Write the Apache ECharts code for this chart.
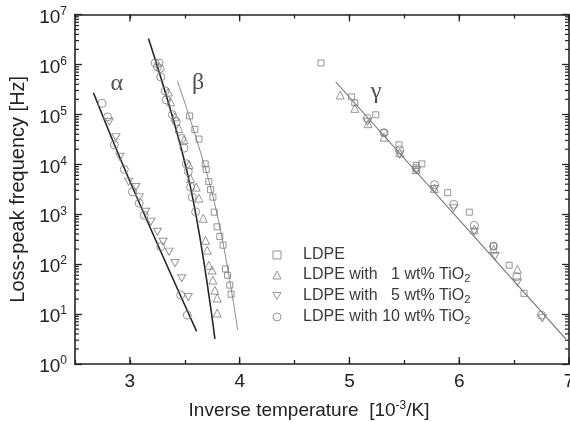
<!DOCTYPE html>
<html><head><meta charset="utf-8">
<script src="https://cdn.jsdelivr.net/npm/echarts@6/dist/echarts.min.js"></script>
<style>html,body{margin:0;padding:0;background:#fff;width:100%;height:100%;overflow:hidden}#c{width:100vw;height:100vh}</style>
</head><body><div id="c"></div><script>
// ---- data (x = inverse temperature [1e-3/K], y = loss-peak frequency [Hz]) ----
const ldpeSquares = [
  [3.544,9.3e4],[3.592,5.0e4],[3.629,3.2e4],[3.686,1.02e4],[3.695,7.9e3],[3.719,4.5e3],[3.735,3.1e3],
  [3.756,2.2e3],[3.768,1.1e3],[3.795,560],[3.819,360],[3.849,240],[3.871,80],[3.889,60],[3.910,38],[3.922,25],
  [4.741,1.07e6],[5.019,2.24e5],[5.049,1.7e5],[5.240,9.8e4],[5.315,4.3e4],[5.451,2.45e4],[5.660,1.02e4],
  [5.608,9.5e3],[5.895,2.7e3],[6.092,1.1e3],[6.312,229],[6.455,95],[6.590,26]
];
const tio1Up = [
  [3.351,2.8e5],[3.372,1.78e5],[3.411,8.9e4],[3.447,5.2e4],[3.493,3.1e4],[3.538,9.8e3],[3.553,5.2e3],
  [3.604,3.5e3],[3.629,2.1e3],[3.668,830],[3.689,300],[3.704,190],[3.719,95],[3.749,76],[3.756,48],
  [3.774,30],[3.795,21],[3.795,10.5],
  [4.916,2.45e5],[5.049,1.32e5],[5.170,6.5e4],[5.315,3.5e4],[5.457,1.7e4],[5.608,7.9e3],[5.775,3.3e3],
  [6.137,500],[6.312,200],[6.530,79]
];
const tio5Down = [
  [2.813,7.1e4],[2.873,3.5e4],[2.909,1.41e4],[2.988,4.5e3],[3.055,3.5e3],[3.085,2.2e3],[3.145,1.12e3],
  [3.191,710],[3.251,447],[3.302,282],[3.357,178],[3.411,105],[3.472,52],[3.532,22],
  [5.164,7.1e4],[5.457,1.58e4],[5.608,7.6e3],[5.775,3.2e3],[5.950,1.32e3],[6.137,447],[6.327,145],
  [6.530,43],[6.757,8.3]
];
const tio10Circles = [
  [2.747,1.66e5],[2.797,8.9e4],[2.858,2.45e4],[2.949,7.9e3],[3.024,2.8e3],[3.085,1.66e3],[3.130,955],
  [3.281,224],[3.463,24],[3.523,9.5],
  [3.230,1.07e6],[3.266,1.07e6],[3.251,8.9e5],[3.275,8.3e5],[3.281,5.6e5],[3.320,2.95e5],[3.332,1.95e5],
  [3.387,9.8e4],[3.423,7.1e4],[3.472,3.3e4],[3.493,2.1e4],[3.514,1.02e4],[3.532,7.1e3],[3.553,3.5e3],
  [3.568,2.2e3],[3.599,1.12e3],
  [5.164,8.3e4],[5.315,4.3e4],[5.457,1.95e4],[5.608,8.3e3],[5.775,3.9e3],[5.950,1.58e3],[6.137,600],
  [6.312,229],[6.524,56],[6.748,9.5]
];
const fitAlpha = [[2.668,2.7e5],[2.994,4.9e3],[3.608,4.5]];
const fitBeta1 = [[3.169,3.3e6],[3.538,4.8e3],[3.774,3.2]];
const fitBeta2 = [[3.432,4.7e5],[3.765,1.9e3],[3.982,4.8]];
const fitGamma = [[4.874,4.5e5],[6.97,3.2]];
const greekLabels = [[2.88,4.1e5,'α'],[3.622,4.3e5,'β'],[5.243,2.8e5,'γ']];
const seriesNames = ['LDPE','LDPE with   1 wt% TiO2','LDPE with   5 wt% TiO2','LDPE with 10 wt% TiO2'];
const xTickLabels = [3,4,5,6,7];
const minorMantissas = [2,3,4,5,6,7,8,9];
const decades = [1,10,100,1e3,1e4,1e5,1e6];

const X_MIN = 2.5, X_MAX = 7, Y_MIN = 1, Y_MAX = 1e7;
const downTri = 'path://M0,0L10,0L5,8.66Z';
const markColor = '#7c7c7c';
const hollow = {color:'rgba(0,0,0,0)', borderColor:markColor, borderWidth:1};
const FONT = 'Liberation Sans, Arial, sans-serif';

const minorTicks = [];
decades.forEach(d => minorMantissas.forEach(m => minorTicks.push([X_MIN, m*d])));

const el = document.getElementById('c');
const chart = echarts.init(el, null, {renderer:'canvas'});
const W = chart.getWidth(), H = chart.getHeight();
const sx = W / 570, sy = H / 422, s = (sx + sy) / 2;
const px = v => v * sx, py = v => v * sy, fs = v => v * s;

function legendText(name){
  const m = name.match(/^(.*TiO)2$/);
  return m ? '{t|' + m[1] + '}{sub|2}' : '{t|' + name + '}';
}
const axisTxt = {fontFamily:FONT, fontSize:fs(19), color:'#222'};
chart.setOption({
  animation:false,
  backgroundColor:'#fff',
  grid:{left:px(75), top:py(14.5), width:px(494), height:py(349.5), containLabel:false, outerBoundsMode:'none'},
  legend:{
    orient:'vertical', left:px(267.5), top:py(242), padding:5*s,
    itemWidth:fs(8), itemHeight:fs(8), itemGap:py(4),
    selectedMode:false,
    itemStyle:{color:'rgba(0,0,0,0)', borderColor:markColor, borderWidth:1},
    data:[
      {name:seriesNames[0], icon:'rect'},
      {name:seriesNames[1], icon:'triangle'},
      {name:seriesNames[2], icon:downTri},
      {name:seriesNames[3], icon:'circle'}
    ],
    formatter: legendText,
    textStyle:{
      fontFamily:FONT, fontSize:fs(16), color:'#3a3a3a', padding:[0,0,0,px(17)],
      rich:{
        t:{fontFamily:FONT, fontSize:fs(16), color:'#3a3a3a', lineHeight:fs(18)},
        sub:{fontFamily:FONT, fontSize:fs(11), color:'#3a3a3a', lineHeight:fs(11), verticalAlign:'bottom'}
      }
    }
  },
  xAxis:[{
    type:'value', min:X_MIN, max:X_MAX, interval:0.5, position:'bottom',
    name:'Inverse temperature  [10{s|-3}/K]', nameLocation:'middle', nameGap:py(36),
    nameTextStyle:Object.assign({}, axisTxt, {padding:[0,px(26),0,0],
      rich:{s:{fontFamily:FONT, fontSize:fs(12), color:'#222', padding:[0,0,fs(9),0]}}}),
    axisLine:{lineStyle:{color:'#222', width:1.6}},
    axisTick:{inside:true, length:fs(4), lineStyle:{color:'#222', width:1.3}},
    axisLabel:Object.assign({}, axisTxt, {margin:py(8), formatter:v => xTickLabels.indexOf(v) >= 0 ? String(v) : ''}),
    splitLine:{show:false}
  },{
    type:'value', min:X_MIN, max:X_MAX, interval:0.5, position:'top',
    axisLine:{lineStyle:{color:'#222', width:1.6}},
    axisTick:{inside:true, length:fs(4), lineStyle:{color:'#222', width:1.3}},
    axisLabel:{show:false}, splitLine:{show:false}
  }],
  yAxis:[{
    type:'log', logBase:10, min:Y_MIN, max:Y_MAX, splitNumber:7, position:'left',
    name:'Loss-peak frequency [Hz]', nameLocation:'middle', nameGap:px(46), nameRotate:90,
    nameTextStyle:Object.assign({}, axisTxt, {fontSize:fs(20)}),
    axisLine:{lineStyle:{color:'#222', width:1.6}},
    axisTick:{inside:true, length:fs(7), lineStyle:{color:'#222', width:1.3}},
    axisLabel:{
      margin:px(8), padding:[fs(6),0,0,0],
      formatter:v => '{b|10}{s|' + Math.round(Math.log10(v)) + '}',
      rich:{
        b:{fontFamily:FONT, fontSize:fs(19), color:'#222'},
        s:{fontFamily:FONT, fontSize:fs(12), color:'#222', padding:[0,0,fs(12),0]}
      }
    },
    splitLine:{show:false}
  },{
    type:'log', logBase:10, min:Y_MIN, max:Y_MAX, splitNumber:7, position:'right',
    axisLine:{lineStyle:{color:'#222', width:1.6}},
    axisTick:{inside:true, length:fs(7), lineStyle:{color:'#222', width:1.3}},
    axisLabel:{show:false}, splitLine:{show:false}
  }],
  series:[
    {name:seriesNames[0], type:'scatter', data:ldpeSquares, symbol:'rect', symbolSize:fs(6), itemStyle:hollow, z:3},
    {name:seriesNames[1], type:'scatter', data:tio1Up, symbol:'triangle', symbolSize:fs(8), itemStyle:hollow, z:3},
    {name:seriesNames[2], type:'scatter', data:tio5Down, symbol:downTri, symbolSize:[fs(8),fs(7)], itemStyle:hollow, z:3},
    {name:seriesNames[3], type:'scatter', data:tio10Circles, symbol:'circle', symbolSize:fs(8), itemStyle:hollow, z:3},
    {type:'line', data:fitAlpha, smooth:0.4, showSymbol:false, lineStyle:{color:'#262626', width:1.6}, z:2},
    {type:'line', data:fitBeta1, smooth:0.4, showSymbol:false, lineStyle:{color:'#262626', width:1.6}, z:2},
    {type:'line', data:fitBeta2, smooth:0.4, showSymbol:false, lineStyle:{color:'#8a8a8a', width:1}, z:2},
    {type:'line', data:fitGamma, showSymbol:false, lineStyle:{color:'#707070', width:1.1}, z:2},
    {type:'scatter', data:greekLabels, symbolSize:0, silent:true,
      label:{show:true, position:'inside', formatter:p => p.data[2],
        fontFamily:'Liberation Serif, Times New Roman, serif', fontSize:fs(24), color:'#222'}},
    {type:'custom', silent:true, clip:false, data:minorTicks,
      renderItem:(params, api) => {
        const v = api.value(1);
        const l = api.coord([X_MIN, v]);
        const r = api.coord([X_MAX, v]);
        return {type:'group', children:[
          {type:'line', shape:{x1:l[0], y1:l[1], x2:l[0]+fs(4), y2:l[1]}, style:{stroke:'#222', lineWidth:1.2}},
          {type:'line', shape:{x1:r[0], y1:r[1], x2:r[0]-fs(4), y2:r[1]}, style:{stroke:'#222', lineWidth:1.2}}
        ]};
      }},
    {type:'custom', silent:true, clip:false, data:xTickLabels.map(v => [v, Y_MIN]),
      renderItem:(params, api) => {
        const b = api.coord([api.value(0), Y_MIN]);
        const t = api.coord([api.value(0), Y_MAX]);
        return {type:'group', children:[
          {type:'line', shape:{x1:b[0], y1:b[1], x2:b[0], y2:b[1]-fs(7)}, style:{stroke:'#222', lineWidth:1.3}},
          {type:'line', shape:{x1:t[0], y1:t[1], x2:t[0], y2:t[1]+fs(7)}, style:{stroke:'#222', lineWidth:1.3}}
        ]};
      }}
  ]
});
</script></body></html>
